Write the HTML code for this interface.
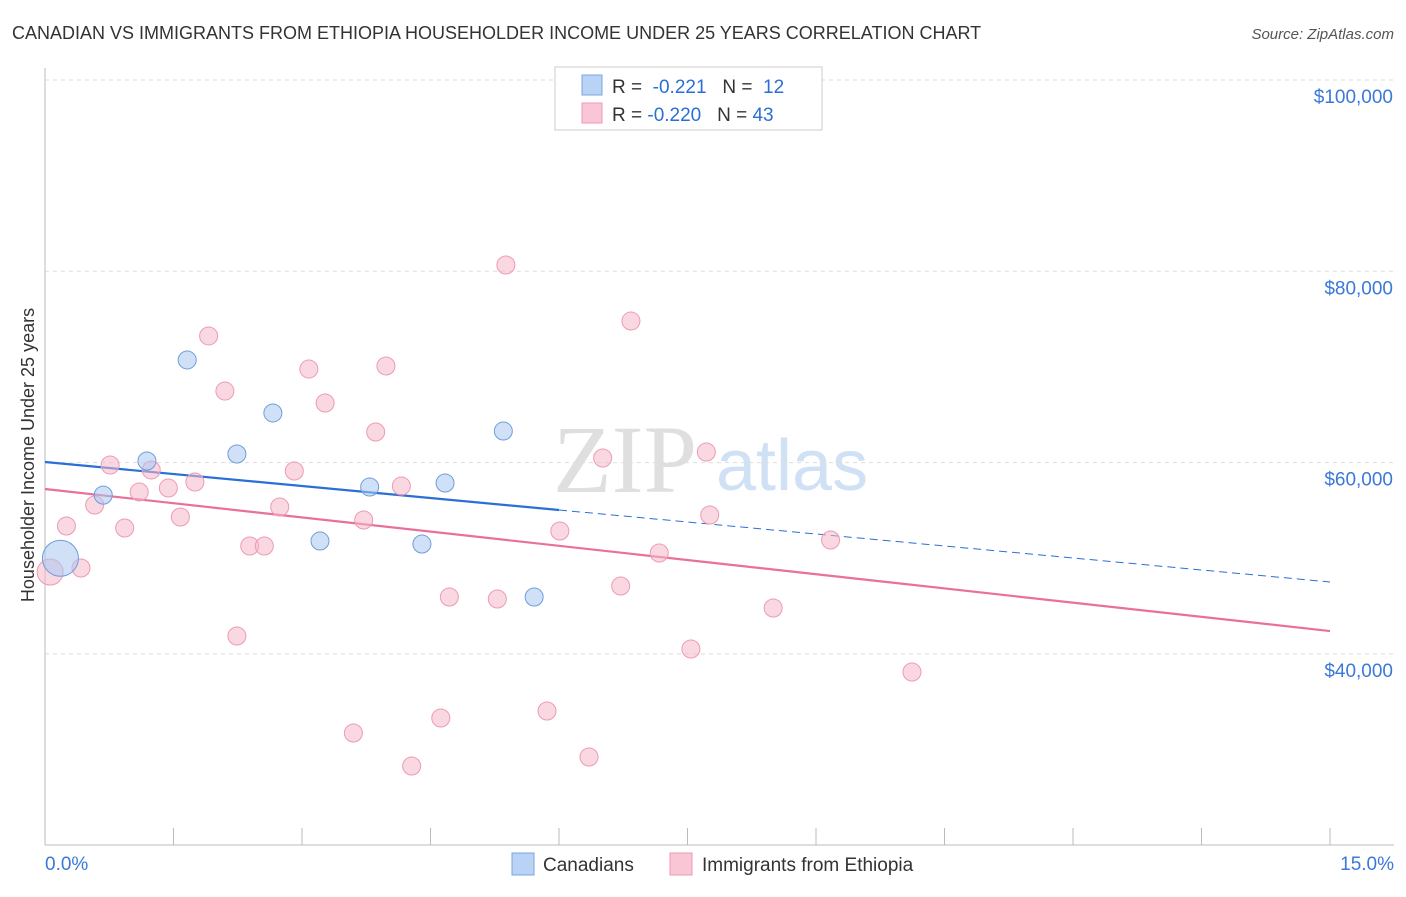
<!DOCTYPE html>
<html><head><meta charset="utf-8"><style>
body{margin:0;background:#fff;font-family:"Liberation Sans",sans-serif;}
</style></head><body>
<svg id="chart" width="1406" height="892" xmlns="http://www.w3.org/2000/svg" font-family="Liberation Sans, sans-serif">
<text x="12" y="39" font-size="18" fill="#333">CANADIAN VS IMMIGRANTS FROM ETHIOPIA HOUSEHOLDER INCOME UNDER 25 YEARS CORRELATION CHART</text>
<text x="1394" y="39" font-size="15" fill="#555" text-anchor="end" font-style="italic">Source: ZipAtlas.com</text>
<g>
<text x="553" y="492" font-size="96" fill="#d8d8d8" font-family="Liberation Serif, serif" opacity="0.8">ZIP</text>
<text x="716" y="490" font-size="72" fill="#c5daf3" opacity="0.8">atlas</text>
</g>
<g id="grid"></g>
<g id="axes"></g>
<g id="trends"></g>
<g id="points"></g>
<text transform="translate(34,455) rotate(-90)" text-anchor="middle" font-size="18" fill="#333">Householder Income Under 25 years</text>
<g>
<rect x="555" y="67" width="267" height="63" fill="#fff" stroke="#ccc"/>
<rect x="582" y="75" width="20" height="20" fill="#b8d3f5" stroke="#7aa6e0"/>
<rect x="582" y="103" width="20" height="20" fill="#f9c6d5" stroke="#ee9ab5"/>
<text x="612" y="93" font-size="19" fill="#333">R = <tspan fill="#2a6fd6">&#160;-0.221</tspan>&#160;&#160;&#160;N = <tspan fill="#2a6fd6">&#160;12</tspan></text>
<text x="612" y="121" font-size="19" fill="#333">R = <tspan fill="#2a6fd6">-0.220</tspan>&#160;&#160;&#160;N = <tspan fill="#2a6fd6">43</tspan></text>
</g>
<g>
<rect x="512" y="853" width="22" height="22" fill="#b8d3f5" stroke="#7aa6e0"/>
<text x="543" y="871" font-size="19" fill="#333">Canadians</text>
<rect x="670" y="853" width="22" height="22" fill="#f9c6d5" stroke="#ee9ab5"/>
<text x="702" y="871" font-size="19" fill="#333">Immigrants from Ethiopia</text>
</g>
</svg>
<script>
const blueX=[0.18,0.68,1.19,1.66,2.24,2.66,3.21,3.79,4.40,4.67,5.35,5.71];
const blueY=[50000,56600,60170,70730,60900,65190,51800,57450,51490,57870,63300,45950];
const blueR=[18,9,9,9,9,9,9,9,9,9,9,9];
const pinkX=[0.06,0.25,0.42,0.58,0.76,0.93,1.10,1.24,1.44,1.58,1.75,1.91,2.10,2.24,2.39,2.56,2.74,2.91,3.08,3.27,3.60,3.72,3.86,3.98,4.16,4.28,4.62,4.72,5.28,5.38,5.86,6.01,6.35,6.51,6.72,6.84,7.17,7.54,7.72,7.76,8.50,9.17,10.12];
const pinkY=[48560,53370,48980,55570,59750,53160,56930,59230,57340,54310,57970,73240,67480,41870,51280,51280,55360,59120,69780,66230,31730,54000,63200,70100,57550,28280,33300,45950,45740,80660,34030,52850,29220,60480,47100,74800,50550,40510,61110,54520,44800,51910,38110];
const blueTrend=[60060,47520];
const pinkTrend=[57240,42390];
const yTicks=[100000,80000,60000,40000];
const yTickLabels=["$100,000","$80,000","$60,000","$40,000"];
const xTicks=[0,1.5,3,4.5,6,7.5,9,10.5,12,13.5,15];
const xEnds=[0,15];
const xEndLabels=["0.0%","15.0%"];
const blueSolidEnd=6;

const NS="http://www.w3.org/2000/svg";
const X0=45,X1=1330;
const xs=v=>X0+(v-0)/15*(X1-X0);
const ys=v=>80+(100000-v)/20000*191.3;
function mk(tag,attrs,parent){const e=document.createElementNS(NS,tag);for(const k in attrs)e.setAttribute(k,attrs[k]);document.getElementById(parent).appendChild(e);return e;}
yTicks.forEach((t,i)=>{
  const l=mk('line',{x1:45,x2:1394,y1:ys(t),y2:ys(t),stroke:'#ddd','stroke-dasharray':'4,4'},'grid');
  
  
  const tx=mk('text',{x:1393,y:ys(t)+23,'text-anchor':'end','font-size':19,fill:'#3b78d8'},'grid');
  tx.textContent=yTickLabels[i];
  
  
});
const ax=mk('line',{x1:45,x2:1394,y1:845,y2:845,stroke:'#bbb'},'axes');


const ay=mk('line',{x1:45,x2:45,y1:68,y2:845,stroke:'#bbb'},'axes');


xTicks.forEach(t=>{
  const l=mk('line',{x1:xs(t),x2:xs(t),y1:828,y2:845,stroke:'#bbb'},'axes');
  
  
});
xEnds.forEach((t,i)=>{
  const tx=mk('text',{x:i==0?xs(t):1394,y:870,'text-anchor':i==0?'start':'end','font-size':19,fill:'#3b78d8'},'axes');
  tx.textContent=xEndLabels[i];
  
  
});
const bAt=x=>blueTrend[0]+(blueTrend[1]-blueTrend[0])*x/15;
let t1=mk('line',{x1:xs(0),y1:ys(bAt(0)),x2:xs(blueSolidEnd),y2:ys(bAt(blueSolidEnd)),stroke:'#2a6fd6','stroke-width':2.2},'trends');


let t2=mk('line',{x1:xs(blueSolidEnd),y1:ys(bAt(blueSolidEnd)),x2:xs(15),y2:ys(bAt(15)),stroke:'#2a6fd6','stroke-width':1,'stroke-dasharray':'8,5'},'trends');


let t3=mk('line',{x1:xs(0),y1:ys(pinkTrend[0]),x2:xs(15),y2:ys(pinkTrend[1]),stroke:'#e8709a','stroke-width':2.2},'trends');


pinkX.forEach((x,i)=>{
  const c=mk('circle',{cx:xs(x),cy:ys(pinkY[i]),r:i==0?13:9,fill:'#f6b8cb','fill-opacity':0.55,stroke:'#ee9ab5','stroke-width':1},'points');
  
  
});
blueX.forEach((x,i)=>{
  const c=mk('circle',{cx:xs(x),cy:ys(blueY[i]),r:blueR[i],fill:'#a9c8f0','fill-opacity':0.55,stroke:'#6f9ddb','stroke-width':1},'points');
  
  
});
</script>
</body></html>
